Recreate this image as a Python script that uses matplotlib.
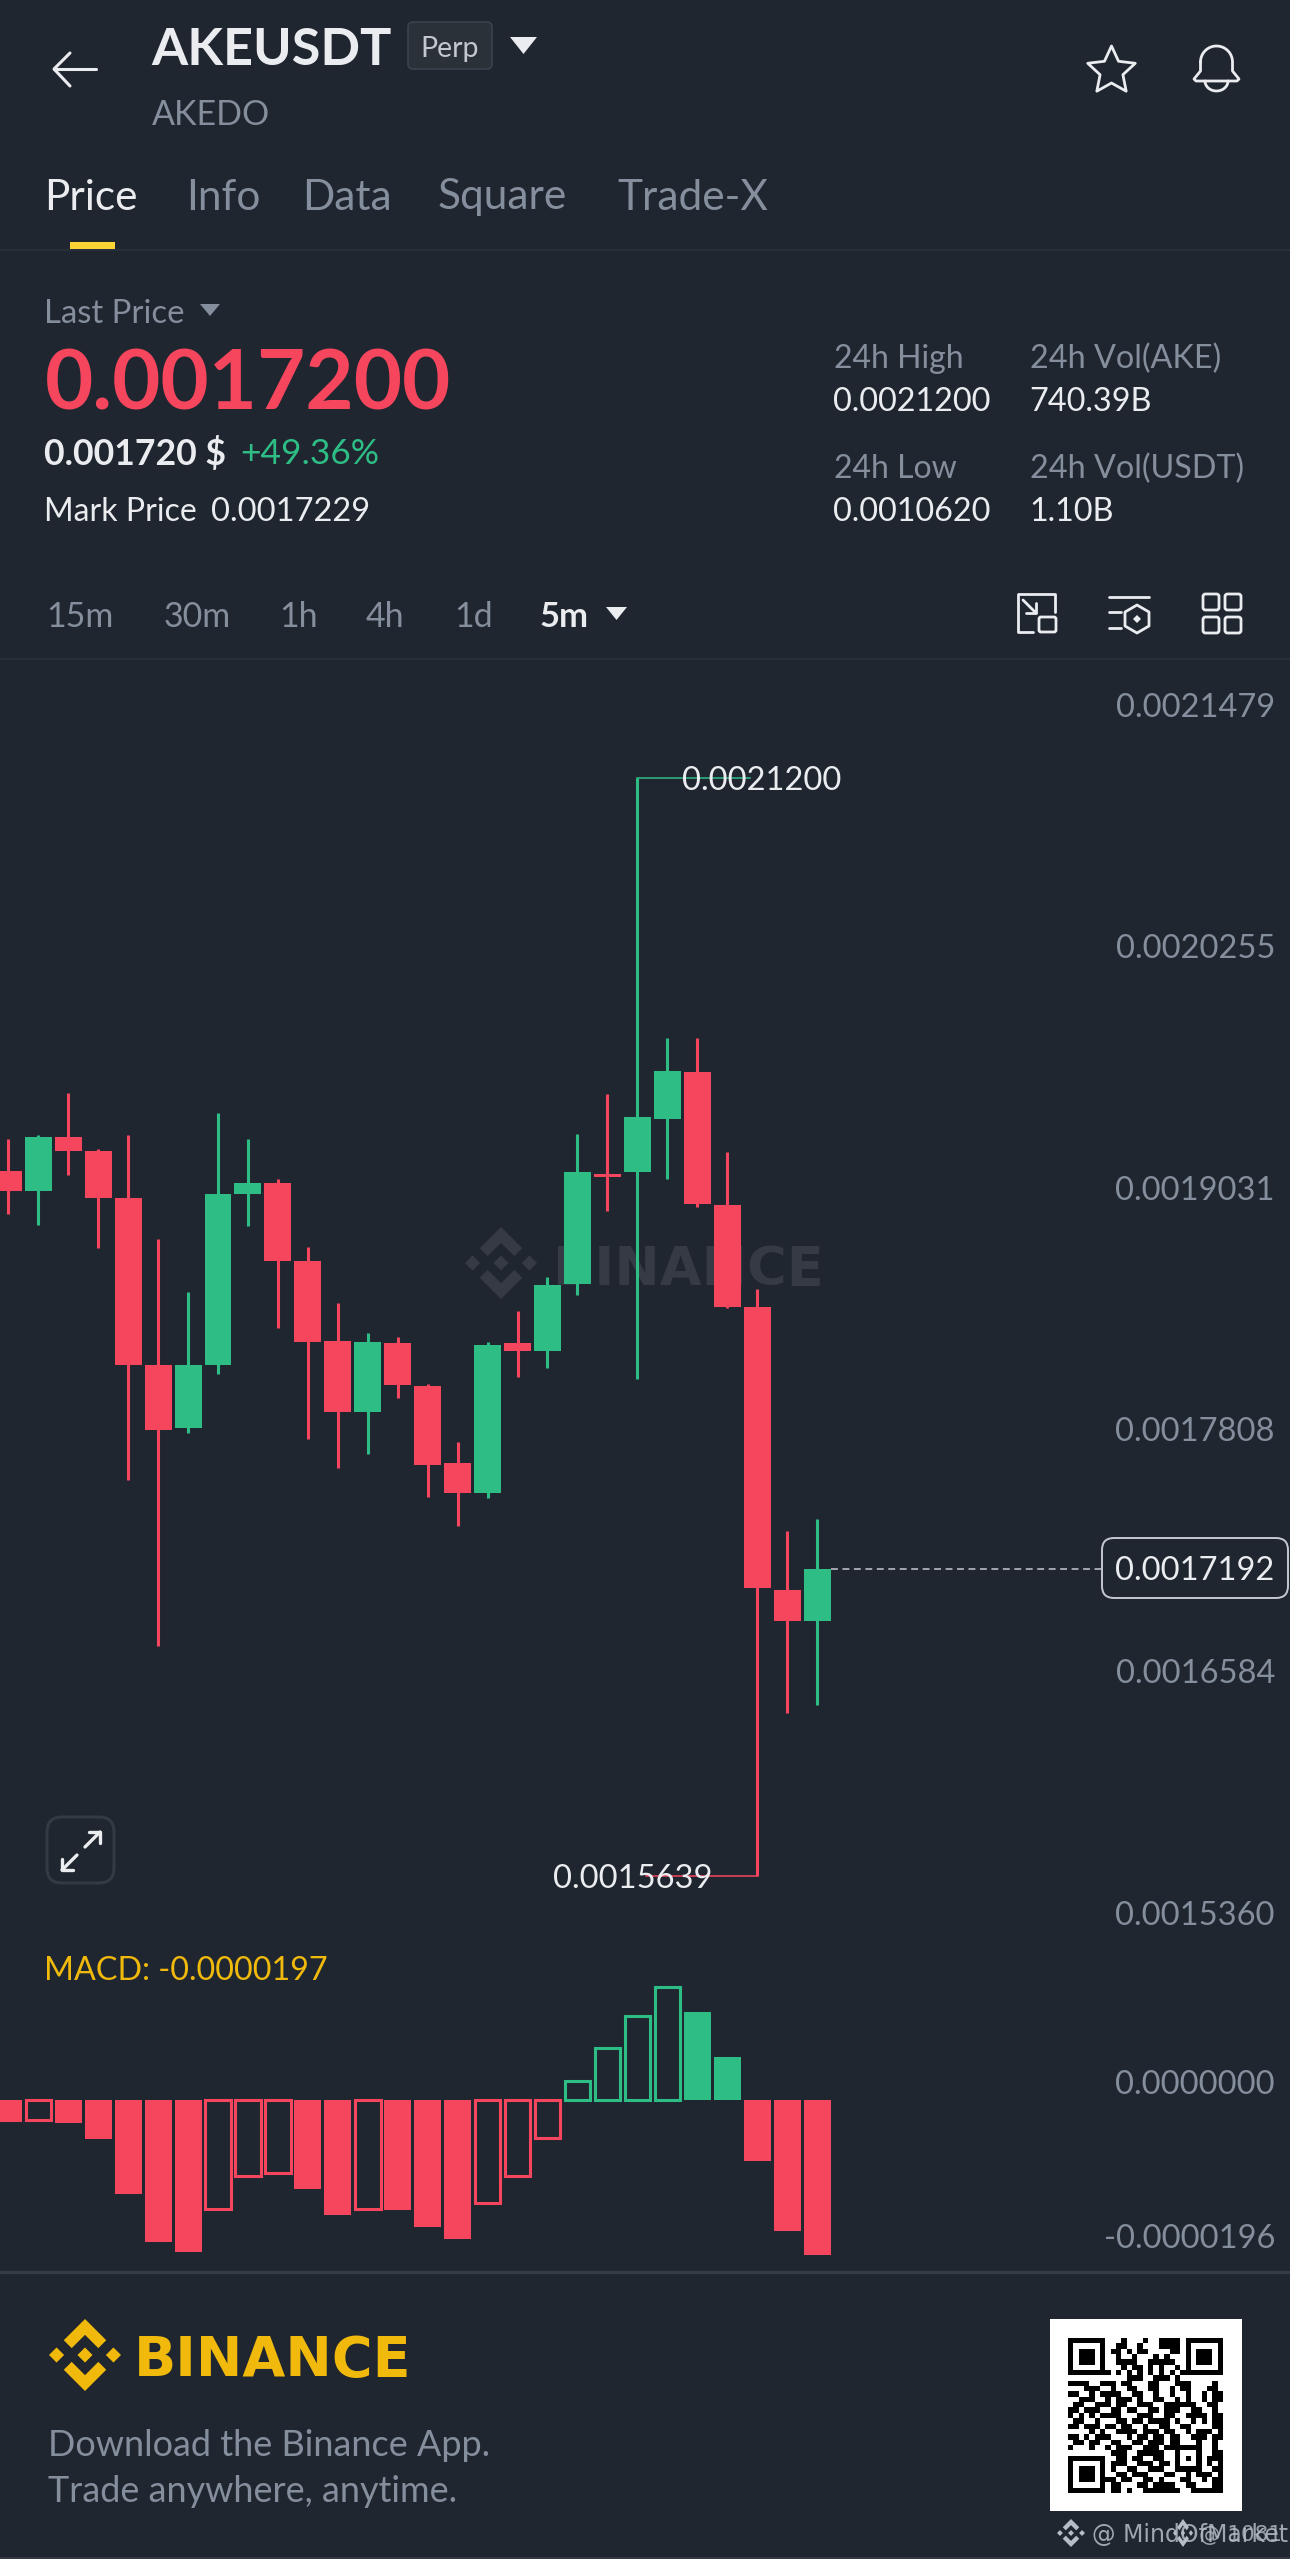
#!/usr/bin/env python3
import matplotlib
matplotlib.use("Agg")
import matplotlib.pyplot as plt
import matplotlib.patches as patches
import numpy as np

plt.rcParams['font.family'] = ['Lato', 'DejaVu Sans']

W, H = 1290, 2559
BG = '#1F2630'
RED = '#F6465D'
GREEN = '#2EBD85'
GREY = '#848E9C'
WHITE = '#EAECEF'
YELLOW = '#F0B90B'
LINE = '#2B313B'

# candle values, in units of 1e-7
opens = [19212, 19109, 19380, 19309, 19075, 18227, 17906, 18229, 19092, 19147,
         18756, 18347, 17988, 18340, 18118, 17730, 17576, 18337, 18297, 18637,
         19195, 19202, 19474, 19709, 19035, 18521, 17085, 16932]
closes = [19109, 19382, 19311, 19075, 18227, 17897, 18229, 19092, 19147, 18756,
          18345, 17988, 18345, 18124, 17721, 17576, 18330, 18297, 18630, 19202,
          19181, 19481, 19716, 19042, 18521, 17095, 16932, 17192]
highs = [19370, 19390, 19603, 19323, 19390, 18863, 18595, 19502, 19370, 19168,
         18825, 18542, 18389, 18370, 18132, 17839, 18342, 18500, 18670, 19398,
         19602, 21200, 19884, 19884, 19305, 18611, 17388, 17444]
lows = [18991, 18935, 19191, 18821, 17643, 16803, 17880, 18183, 18931, 18414,
        17853, 17704, 17778, 18061, 17557, 17409, 17555, 18167, 18211, 18579,
        19009, 18158, 19167, 19028, 18514, 15639, 16464, 16504]
macd_hist = [-27.5, -25, -28.8, -50, -119, -181, -193, -139, -97, -93,
             -113, -146, -138, -140, -161, -177, -130.5, -96, -48, 24,
             66, 107, 143, 112, 54, -77, -167, -197]

price_ticks = [21479, 20255, 19031, 17808, 16584, 15360]
macd_ticks = [0, -196]
macd_tick_labels = ['0.0000000', '-0.0000196']
high_price = 21200
low_price = 15639
last_price = 17192

tabs = ['Price', 'Info', 'Data', 'Square', 'Trade-X']
intervals = ['15m', '30m', '1h', '4h', '1d']

qr_rows = [
    "1111111000100010011110" + "1111111",
    "1000001001100100011110" + "1000001",
    "1011101011010110000110" + "1011101",
    "1011101001001000101000" + "1011101",
    "1011101001111001111100" + "1011101",
    "1000001000101101010010" + "1000001",
    "1111111101010101010101" + "1111111",
    "0000000000011100111010" + "0000000",
    "11110011101100011000111000010",
    "00011100100110011001011000110",
    "11001011110011001001001001011",
    "00111001011101001100101001011",
    "01100111011001110011111100110",
    "11011100110110011011100110010",
    "10101011110001110011001111011",
    "01100100011011011110100101011",
    "11011101101100100110011000011",
    "00001010011110111011001011101",
    "11010111000101101101100111011",
    "01101100110011011101100010010",
    "10001001011100111011" + "11111" + "0010",
    "00000000111001111100" + "10001" + "0011",
    "11111110011011001100" + "10101" + "0111",
    "10000010111001110110" + "10001" + "0101",
    "10111010100110011100" + "11111" + "0011",
    "10111010011011100011" + "00101" + "1101",
    "10111011101100110100" + "01100" + "1011",
    "10000010110001101111" + "00110" + "0011",
    "11111110110100111111" + "10011" + "1111",
]


def px_axes(fig, top, bottom):
    ax = fig.add_axes([0, 1 - bottom / H, 1, (bottom - top) / H])
    ax.set_xlim(-0.279, 42.79)
    ax.axis('off')
    ax.patch.set_alpha(0)
    return ax


def draw_logo(ax, cx, cy, r, color, ry=None, zorder=1):
    ry = ry or r
    top = [(0, 1), (.59, .41), (.37, .19), (0, .56), (-.37, .19), (-.59, .41)]
    bottom = [(x, -y) for x, y in top]
    center = [(0, .21), (.21, 0), (0, -.21), (-.21, 0)]
    left = [(x - .79, y) for x, y in center]
    right = [(x + .79, y) for x, y in center]
    for shape in (top, bottom, center, left, right):
        pts = [(cx + x * r, cy - y * ry) for x, y in shape]
        ax.add_patch(patches.Polygon(pts, closed=True, facecolor=color, edgecolor='none', zorder=zorder))


def label(ax, x, y, s, size, color=WHITE, weight='normal', ha='left', **kw):
    # small nudge for the left side bearing of the font
    ax.text(x - 1.5 if ha == 'left' else x, y, s, fontsize=size, color=color, fontweight=weight, ha=ha,
            va='center_baseline', **kw)


def tri(ax, x0, x1, y0, y1, color):
    ax.add_patch(patches.Polygon([(x0, y0), (x1, y0), ((x0 + x1) / 2, y1)], closed=True,
                                 facecolor=color, edgecolor='none'))


def stroke(ax, xs, ys, color=WHITE, lw=2.0):
    ax.plot(xs, ys, color=color, lw=lw, solid_capstyle='round', solid_joinstyle='round')


def rbox(ax, x0, y0, x1, y1, edge=WHITE, face='none', lw=2.0, rad=3, zorder=2):
    ax.add_patch(patches.FancyBboxPatch((x0 + rad, y0 + rad), x1 - x0 - 2 * rad, y1 - y0 - 2 * rad,
                                        boxstyle=f"round,pad={rad},rounding_size={rad}",
                                        edgecolor=edge, facecolor=face, linewidth=lw, zorder=zorder))


fig = plt.figure(figsize=(W / 100, H / 100), dpi=100, facecolor=BG)

# background layer holds the chart watermark so the candles sit on top
back = fig.add_axes([0, 0, 1, 1], zorder=0)
back.set_xlim(0, W)
back.set_ylim(H, 0)
back.axis('off')
draw_logo(back, 501, 1263, 36, '#353A45', ry=36)
back.text(688, 1264, 'BINANCE', fontsize=39, color='#353A45', fontweight='bold',
          family='DejaVu Sans', ha='center', va='center_baseline')

# candles
x = np.arange(len(opens))
ax = px_axes(fig, 660, 1960)
ax.set_zorder(1)
ax.set_ylim(15212.4, 21798.2)
colors = [GREEN if c >= o else RED for o, c in zip(opens, closes)]
ax.vlines(x, lows, highs, colors=colors, linewidth=2.2)
ax.bar(x, np.abs(np.array(closes) - np.array(opens)), bottom=np.minimum(opens, closes),
       width=0.9, color=colors, linewidth=0)
for p in price_ticks:
    ax.annotate(f'{p / 1e7:.7f}', xy=(1, p), xycoords=('axes fraction', 'data'), xytext=(-10.8, 11),
                textcoords='offset points', ha='right', va='center', fontsize=23.5, color=GREY)
ax.plot([21, 24.75], [high_price, high_price], color=GREEN, lw=1.1)
ax.plot([25, 21.3], [low_price, low_price], color=RED, lw=1.1)
ax.annotate(f'{high_price / 1e7:.7f}', xy=(21, high_price), xytext=(32.5, -2), textcoords='offset points',
            ha='left', va='center', fontsize=23.5, color=WHITE)
ax.annotate(f'{low_price / 1e7:.7f}', xy=(25, low_price), xytext=(-32.5, -2), textcoords='offset points',
            ha='right', va='center', fontsize=23.5, color=WHITE)
ax.plot([27.45, 36.5], [last_price, last_price], color='#C5C9CF', lw=1.1, linestyle=(0, (4.5, 3)))

# macd histogram, rising bars are hollow
ax2 = px_axes(fig, 1960, 2272)
ax2.set_zorder(1)
ax2.set_ylim(-218.6, 177.9)
for i, v in enumerate(macd_hist):
    color = GREEN if v >= 0 else RED
    if i > 0 and v > macd_hist[i - 1]:
        ax2.bar(i, v, width=0.85, facecolor='none', edgecolor=color, linewidth=2.2)
    else:
        ax2.bar(i, v, width=0.9, color=color, linewidth=0)
for v, s in zip(macd_ticks, macd_tick_labels):
    ax2.annotate(s, xy=(1, v), xycoords=('axes fraction', 'data'), xytext=(-10.8, 11),
                 textcoords='offset points', ha='right', va='center', fontsize=23.5, color=GREY)

# everything else is placed in screen pixels
ui = fig.add_axes([0, 0, 1, 1], zorder=2)
ui.axis('off')
ui.patch.set_alpha(0)

# header
stroke(ui, [54, 96], [69, 69], lw=2.2)
stroke(ui, [70, 54, 70], [53, 69, 86], lw=2.2)
label(ui, 153, 46, 'AKEUSDT', 37.5, weight='bold')
rbox(ui, 408, 22, 492, 69, edge='#3A424E', face='#2B3139', lw=1.2, rad=5)
label(ui, 450, 46, 'Perp', 20.5, color='#C3C7CE', ha='center')
tri(ui, 510, 537, 37, 54, WHITE)
label(ui, 153, 112, 'AKEDO', 24.5, color=GREY)
star_a = np.deg2rad(np.arange(0, 360, 36) + 90)
star_r = np.where(np.arange(10) % 2 == 0, 25, 12)
star_x = 1111.5 + star_r * np.cos(star_a)
star_y = 71 - star_r * np.sin(star_a)
ui.add_patch(patches.Polygon(np.c_[star_x, star_y], closed=True, fill=False, edgecolor=WHITE,
                             linewidth=2.0, joinstyle='round'))
t = np.linspace(np.pi, 0, 30)
stroke(ui, np.r_[1216.5 + 16 * np.cos(t), 1232.5, 1239, 1237, 1196, 1194, 1200.5, 1200.5],
       np.r_[62 - 16 * np.sin(t), 71, 79, 81, 81, 79, 71, 62])
t = np.linspace(np.pi, 2 * np.pi, 20)
stroke(ui, 1216.5 + 11.5 * np.cos(t), 81 - 10 * np.sin(t))

# tabs
for s, tx in zip(tabs, [46, 188, 304, 439, 619]):
    label(ui, tx, 194, s, 30.5, color=WHITE if s == 'Price' else GREY)
ui.add_patch(patches.Rectangle((70, 242), 45, 7, facecolor='#FCD535', edgecolor='none'))
ui.plot([0, W], [250, 250], color=LINE, lw=1.2)

# price block
label(ui, 46, 311, 'Last Price', 23.7, color=GREY)
tri(ui, 200, 220, 304, 316, GREY)
label(ui, 46, 379, '0.0017200', 60, color=RED, weight='bold')
label(ui, 46, 451, '0.001720 $', 25.7, weight='bold')
label(ui, 242, 451, '+49.36%', 25.5, color=GREEN)
label(ui, 46, 509, 'Mark Price', 23)
label(ui, 212, 509, '0.0017229', 23.5)
label(ui, 835, 356, '24h High', 23, color=GREY)
label(ui, 1031, 356, '24h Vol(AKE)', 23.3, color=GREY)
label(ui, 835, 399, '0.0021200', 23.3)
label(ui, 1031, 399, '740.39B', 23.3)
label(ui, 835, 466, '24h Low', 23, color=GREY)
label(ui, 1031, 466, '24h Vol(USDT)', 23.3, color=GREY)
label(ui, 835, 509, '0.0010620', 23.3)
label(ui, 1031, 509, '1.10B', 23.3)

# interval row
for s, tx in zip(intervals, [48, 165, 281, 367, 456]):
    label(ui, tx, 614, s, 24.5, color=GREY)
label(ui, 541, 614, '5m', 25, weight='bold')
tri(ui, 606, 627, 607, 620, WHITE)
ui.plot([0, W], [659, 659], color=LINE, lw=1.2)
stroke(ui, [1033, 1018, 1018, 1055, 1055], [632, 632, 594, 594, 612])
rbox(ui, 1039, 617, 1056, 632, lw=2.0, rad=2)
stroke(ui, [1023, 1036], [600, 613])
stroke(ui, [1026, 1036, 1036], [613, 613, 603])
stroke(ui, [1109, 1149], [597, 597])
stroke(ui, [1109, 1121], [612, 612])
stroke(ui, [1109, 1121], [628, 628])
ui.add_patch(patches.Polygon([(1137, 605), (1149, 612), (1149, 626), (1137, 633), (1125, 626), (1125, 612)],
                             closed=True, fill=False, edgecolor=WHITE, linewidth=2.0, joinstyle='round'))
ui.add_patch(patches.Polygon([(1137, 615), (1141, 619), (1137, 623), (1133, 619)], closed=True,
                             facecolor=WHITE, edgecolor='none'))
for bx, by in [(1203, 594), (1225, 594), (1203, 617), (1225, 617)]:
    rbox(ui, bx, by, bx + 16, by + 16, lw=2.0, rad=2.5)

# chart overlays
rbox(ui, 1102, 1538, 1288, 1598, edge='#C5C9CF', face=BG, lw=1.4, rad=12)
label(ui, 1195, 1568, f'{last_price / 1e7:.7f}', 23.5, ha='center')
rbox(ui, 47, 1817, 114, 1883, edge='#343A44', lw=2.2, rad=15)
stroke(ui, [85, 100], [1847, 1832], lw=2.4)
stroke(ui, [89, 100, 100], [1832, 1832, 1843], lw=2.4)
stroke(ui, [77, 62], [1855, 1870], lw=2.4)
stroke(ui, [62, 62, 73], [1859, 1870, 1870], lw=2.4)
label(ui, 46, 1968, 'MACD: -0.0000197', 23.2, color=YELLOW)

# footer
ui.plot([0, W], [2272, 2272], color='#363C46', lw=2.4)
draw_logo(ui, 85, 2355, 36, YELLOW)
ui.text(273, 2355, 'BINANCE', fontsize=40, color=YELLOW, fontweight='bold', family='DejaVu Sans',
        ha='center', va='center_baseline')
label(ui, 49, 2442, 'Download the Binance App.', 25.9, color=GREY)
label(ui, 49, 2488, 'Trade anywhere, anytime.', 25.9, color=GREY)
ui.add_patch(patches.Rectangle((1050, 2319), 192, 192, facecolor='white', edgecolor='none'))
qr = np.array([[int(ch) for ch in row.ljust(29, '0')[:29]] for row in qr_rows])
ui.imshow(qr, cmap='gray_r', vmin=0, vmax=1, extent=(1068, 1223, 2493, 2338), interpolation='nearest',
          aspect='auto', zorder=3)
draw_logo(ui, 1071, 2533, 14, '#B7BDC6')
ui.text(1092, 2533, '@ MindOfMarket', fontsize=17, color='#B7BDC6', family='DejaVu Sans', ha='left',
        va='center_baseline', alpha=0.85)
draw_logo(ui, 1183, 2533, 10, '#B7BDC6', ry=14)
ui.text(1282, 2533, '@ 1081', fontsize=15.5, color='#B7BDC6', family='DejaVu Sans', ha='right',
        va='center_baseline', alpha=0.8)
ui.plot([0, W], [2557.5, 2557.5], color='#39404A', lw=1.2)

ui.set_xlim(0, W)
ui.set_ylim(H, 0)

fig.savefig('out.png', dpi=100, facecolor=BG)
